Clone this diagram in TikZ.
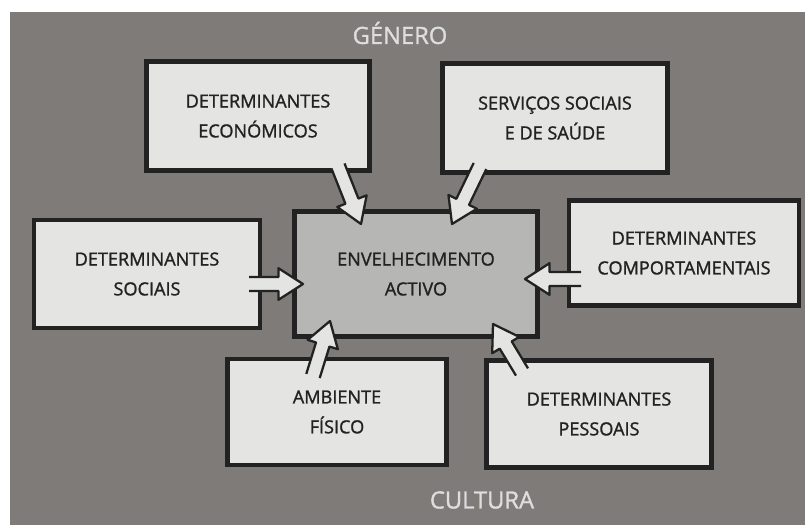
\documentclass[tikz,border=0pt]{standalone}
\usepackage{fontspec}
\setmainfont{Open Sans}
\newfontfamily\heavyfont{Open Sans}[FakeBold=1.3]
\usetikzlibrary{calc}

\definecolor{paper}{HTML}{7E7B79}
\definecolor{boxfill}{HTML}{E4E4E2}
\definecolor{midfill}{HTML}{B6B6B5}
\definecolor{ink}{HTML}{222222}
\definecolor{labelgrey}{HTML}{DEDEDE}

\begin{document}
\begin{tikzpicture}
[x=0.02cm, y=-0.02cm,
 box/.style={draw=ink, line width=2.6pt, fill=boxfill, align=center,
   text=ink, font={\heavyfont\fontsize{10.3}{17}\selectfont}},
 fatarrow/.style={draw=ink, fill=boxfill, line width=1.3pt, line join=round,
   to path={($(\tikztostart)!4pt!90:(\tikztotarget)$)
     -- ($(\tikztotarget)!14.56pt!-15.95:(\tikztostart)$)
     -- ($(\tikztotarget)!16.64pt!-32.74:(\tikztostart)$)
     -- (\tikztotarget)
     -- ($(\tikztotarget)!16.64pt!32.74:(\tikztostart)$)
     -- ($(\tikztotarget)!14.56pt!15.95:(\tikztostart)$)
     -- ($(\tikztostart)!4pt!-90:(\tikztotarget)$)}},
 outer/.style={text=labelgrey, font={\heavyfont\fontsize{13.5}{16}\selectfont}}]
    \useasboundingbox (0,0) rectangle (805,525);
    % background
    \fill[paper] (10,12) rectangle (805,525);
    \node[outer] (genero) at (400,33) {GÉNERO};
    \node[outer] (cultura) at (482,500) {CULTURA};
    % boxes
    \node[box, fill=midfill, minimum width=4.86cm, minimum height=2.5cm] (activo) at (416,274)
        {ENVELHECIMENTO\\ACTIVO};
    \node[box, minimum width=4.46cm, minimum height=2.18cm] (econ) at (258,116)
        {DETERMINANTES\\ECONÓMICOS};
    \node[box, minimum width=4.5cm, minimum height=2.18cm] (servicos) at (555,118)
        {SERVIÇOS SOCIAIS\\E DE SAÚDE};
    \node[box, minimum width=4.52cm, minimum height=2.16cm] (sociais) at (147,274)
        {DETERMINANTES\\SOCIAIS};
    \node[box, minimum width=4.6cm, minimum height=2.1cm] (comport) at (684,253)
        {DETERMINANTES\\COMPORTAMENTAIS};
    \node[box, minimum width=4.38cm, minimum height=2.12cm] (ambiente) at (337,412)
        {AMBIENTE\\FÍSICO};
    \node[box, minimum width=4.5cm, minimum height=2.14cm] (pessoais) at (599,414)
        {DETERMINANTES\\PESSOAIS};
    % arrow ends
    \coordinate (econ-out) at (338,166);
    \coordinate (econ-in) at (361,224);
    \coordinate (servicos-out) at (480,166);
    \coordinate (servicos-in) at (452,224);
    \coordinate (sociais-out) at (249,284);
    \coordinate (sociais-in) at (303,284);
    \coordinate (comport-out) at (581,279);
    \coordinate (comport-in) at (525,279);
    \coordinate (ambiente-out) at (313,376);
    \coordinate (ambiente-in) at (330,321);
    \coordinate (pessoais-out) at (522,372);
    \coordinate (pessoais-in) at (493,324);
    % arrows
    \draw[fatarrow] (econ-out) to (econ-in);
    \draw[fatarrow] (servicos-out) to (servicos-in);
    \draw[fatarrow] (sociais-out) to (sociais-in);
    \draw[fatarrow] (comport-out) to (comport-in);
    \draw[fatarrow] (ambiente-out) to (ambiente-in);
    \draw[fatarrow] (pessoais-out) to (pessoais-in);
\end{tikzpicture}
\end{document}
